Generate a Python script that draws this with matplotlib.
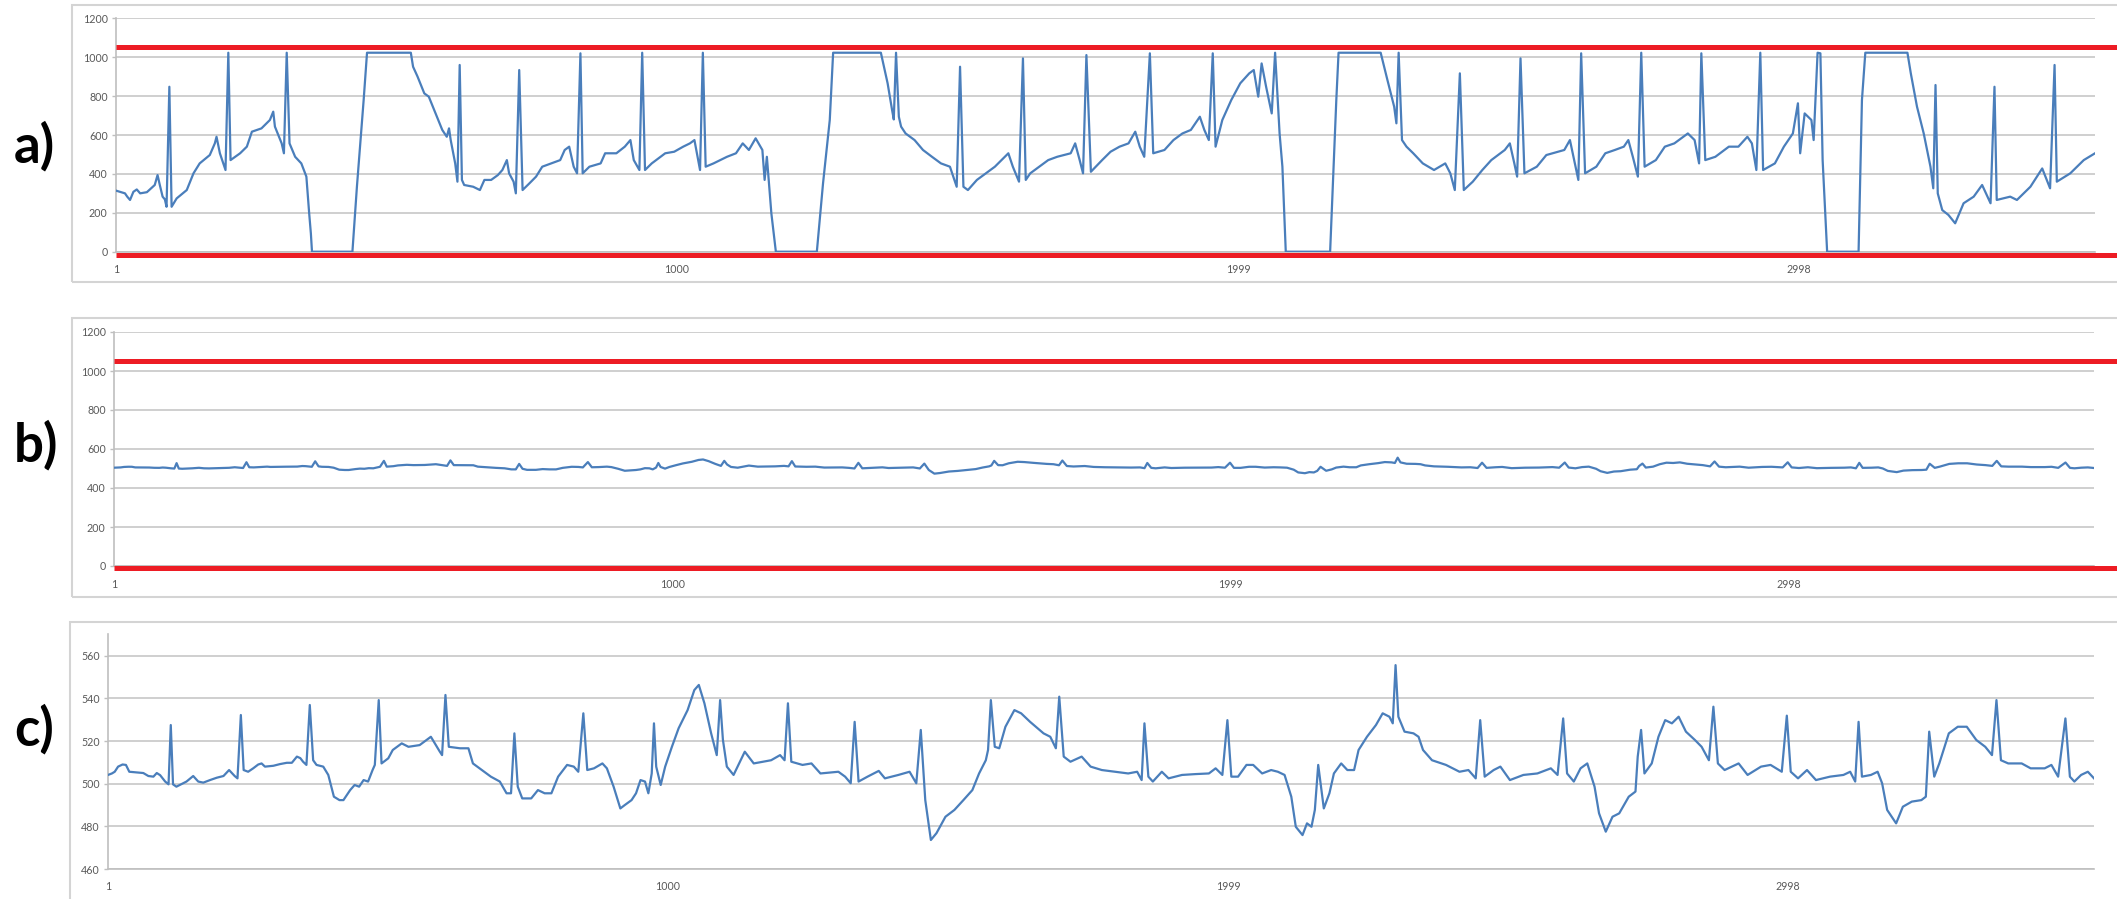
import matplotlib
matplotlib.use("Agg")
import matplotlib.pyplot as plt
from matplotlib.patches import Rectangle

# raw sensor trace (clips at the ADC limits)
raw_idx = [1, 17, 21, 26, 32, 38, 44, 56, 70, 75, 79, 84, 88, 91, 96, 100, 109, 127, 139, 150,
           168, 177, 180, 186, 196, 201, 205, 222, 234, 243, 260, 275, 281, 284, 296, 300, 305,
           310, 320, 331, 340, 345, 348, 350,
           422, 430, 442, 448, 526, 530, 538, 550, 558, 570, 582, 590, 594, 597, 605, 609, 613,
           617, 621, 637, 649, 657, 669, 681, 689, 697, 701, 709, 713, 719, 725, 737, 749, 760,
           776, 792, 800, 808, 816, 822, 828, 832, 844, 864, 872, 892, 907, 917, 923, 933, 938,
           943, 955, 979, 995, 1011, 1023, 1031, 1041, 1046, 1051, 1065, 1089, 1105, 1117, 1128,
           1140, 1152, 1156, 1160, 1168, 1176, 1249, 1260, 1272, 1278, 1363, 1375, 1383, 1386,
           1390, 1395, 1399, 1407, 1423, 1438, 1454, 1470, 1486, 1498, 1504, 1510, 1518, 1534,
           1550, 1566, 1590, 1598, 1609, 1616, 1621, 1629, 1645, 1661, 1677, 1701, 1709, 1717,
           1723, 1729, 1737, 1757, 1772, 1788, 1804, 1816, 1824, 1832, 1842, 1848, 1868, 1884,
           1900, 1915, 1931, 1939, 1947, 1954, 1959, 1971, 1987, 2003, 2019, 2027, 2035, 2041,
           2049, 2059, 2065, 2073, 2078, 2084, 2163, 2174, 2178, 2253, 2265, 2277, 2281, 2285,
           2291, 2299, 2311, 2328, 2348, 2368, 2377, 2385, 2394, 2401, 2417, 2434, 2450, 2474,
           2483, 2491, 2496, 2502, 2509, 2531, 2548, 2580, 2590, 2600, 2605, 2610, 2617, 2637,
           2653, 2670, 2686, 2694, 2702, 2711, 2717, 2723, 2743, 2759, 2776, 2800, 2812, 2820,
           2824, 2831, 2849, 2873, 2890, 2906, 2914, 2922, 2929, 2934, 2955, 2971, 2987, 2996,
           3000, 3008, 3020, 3024, 3031, 3036, 3040, 3048, 3104, 3110, 3116, 3191, 3197, 3208,
           3220, 3232, 3237, 3241, 3245, 3253, 3264, 3276, 3291, 3309, 3324, 3339, 3346, 3350,
           3374, 3386, 3410, 3431, 3445, 3453, 3457, 3481, 3505, 3525]
raw_val = [314, 300, 283, 266, 308, 320, 300, 306, 343, 394, 343, 283, 269, 231, 848, 231, 274,
           317, 403, 454, 497, 557, 591, 506, 420, 1023, 471, 506, 540, 617, 634, 677, 720, 643,
           557, 506, 1023, 557, 488, 454, 386, 197, 94, 0,
           0, 334, 780, 1023, 1023, 951, 900, 814, 797, 711, 626, 591, 634, 574, 454, 360, 960,
           369, 343, 334, 317, 369, 369, 394, 420, 471, 403, 360, 300, 934, 317, 351, 386, 437,
           454, 471, 523, 540, 437, 403, 1020, 403, 437, 454, 506, 506, 540, 574, 471, 420, 1023,
           420, 454, 506, 514, 540, 557, 574, 420, 1023, 437, 454, 488, 506, 557, 523,
           583, 523, 369, 488, 197, 0, 0, 351, 677, 1023, 1023, 866, 728, 680,
           1023, 694, 643, 608, 574, 523, 488, 454, 437, 334, 951, 334, 317, 369,
           403, 437, 506, 437, 360, 994, 369, 403, 437, 471, 488, 506, 557, 471,
           403, 1011, 411, 471, 514, 540, 557, 617, 540, 488, 1020, 506, 523, 574,
           608, 626, 694, 626, 574, 1020, 540, 677, 780, 866, 917, 934, 797, 968,
           848, 711, 1023, 608, 437, 0, 0, 780, 1023, 1023, 883, 746, 660, 1023,
           574, 540, 506, 454, 420, 454, 403, 317, 917, 317, 360, 420, 471, 523,
           557, 454, 386, 994, 403, 437, 497, 523, 574, 437, 369, 1020, 403, 437,
           506, 523, 540, 574, 488, 386, 1023, 437, 471, 540, 557, 608, 574, 454,
           1020, 471, 488, 540, 540, 591, 557, 420, 1023, 420, 454, 540, 608, 763,
           506, 711, 677, 574, 1023, 1020, 471, 0, 0, 780, 1023, 1023, 917, 746,
           608, 437, 326, 857, 300, 214, 189, 146, 249, 283, 343, 249, 848, 266,
           283, 266, 334, 428, 326, 960, 360, 403, 471, 506]

# filtered trace (shown at full and zoomed scale)
filt_idx = [1, 8, 13, 19, 27, 33, 39, 52, 64, 73, 82, 88, 94, 103, 109, 113, 117, 123, 129, 141,
            153, 162, 171, 183, 195, 207, 217, 227, 232, 238, 243, 251, 260, 269, 275, 281, 296,
            308, 320, 329, 338, 344, 349, 355, 361, 367, 373, 385, 394, 404, 414, 421, 433, 441,
            449, 457, 465, 473, 477, 484, 489, 501, 509, 525, 537, 557, 577, 593, 597, 603, 609,
            629, 644, 652, 668, 684, 700, 712, 720, 726, 732, 740, 756, 768, 780, 792, 804, 820,
            832, 840, 849, 856, 868, 883, 891, 903, 915, 923, 935, 943, 951, 959, 965, 971, 975,
            979, 987, 995, 1007, 1019, 1035, 1047, 1055, 1065, 1077, 1087, 1093, 1098, 1105,
            1117, 1137, 1153, 1184, 1200, 1208, 1214, 1220, 1240, 1256, 1272, 1304, 1316, 1326,
            1333, 1340, 1356, 1376, 1387, 1411, 1431, 1443, 1451, 1459, 1469, 1479, 1495, 1511,
            1527, 1543, 1555, 1567, 1571, 1576, 1583, 1591, 1602, 1618, 1630, 1646, 1670, 1682,
            1692, 1698, 1706, 1718, 1738, 1754, 1774, 1798, 1821, 1837, 1845, 1850, 1857, 1865,
            1881, 1893, 1917, 1941, 1965, 1977, 1989, 1998, 2005, 2017, 2032, 2044, 2060, 2076,
            2088, 2100, 2112, 2120, 2132, 2140, 2148, 2154, 2160, 2170, 2180, 2188, 2201, 2212,
            2224, 2232, 2247, 2263, 2275, 2287, 2293, 2298, 2303, 2314, 2330, 2339, 2347, 2363,
            2388, 2412, 2428, 2441, 2449, 2457, 2473, 2485, 2502, 2526, 2551, 2575, 2587, 2597,
            2604, 2616, 2628, 2640, 2653, 2661, 2673, 2685, 2697, 2714, 2726, 2730, 2736, 2742,
            2755, 2767, 2779, 2791, 2803, 2816, 2832, 2844, 2857, 2865, 2873, 2885, 2910, 2926,
            2950, 2967, 2987, 2996, 3003, 3016, 3032, 3048, 3073, 3097, 3109, 3118, 3124, 3130,
            3146, 3158, 3166, 3175, 3191, 3203, 3219, 3236, 3244, 3250, 3259, 3268, 3285, 3301,
            3317, 3334, 3350, 3362, 3370, 3378, 3391, 3415, 3431, 3456, 3468, 3480, 3493, 3501,
            3509, 3521, 3533, 3544]
filt_val = [504.1, 504.8, 505.6, 508.0, 509.0, 508.8, 505.6, 505.3, 505.0, 503.6, 503.3, 505.0,
            504.0, 501.0, 499.7, 527.5, 499.7, 498.6, 499.4, 501.0, 503.6, 501.0, 500.5, 501.7,
            502.8, 503.6, 506.4, 503.6, 502.5, 532.2, 506.4, 505.6, 507.2, 509.0, 509.5, 508.0,
            508.4, 509.2, 509.8, 509.8, 512.7, 512.0, 510.3, 508.8, 536.9, 511.0, 508.8, 508.0,
            504.1, 493.9, 492.3, 492.3, 497.0, 499.4, 498.6, 501.7, 501.0, 506.4, 508.8, 539.2,
            509.5, 511.9, 515.8, 518.9, 517.3, 518.1, 522.0, 515.0, 513.4, 541.6, 517.3, 516.6,
            516.6, 509.5, 506.4, 503.3, 501.0, 495.5, 495.5, 523.6, 498.6, 493.1, 493.1, 497.0,
            495.5, 495.5, 503.3, 508.8, 508.0, 505.6, 533.0, 506.4, 507.2, 509.5, 507.2, 498.6,
            488.4, 490.0, 492.3, 495.5, 501.7, 501.0, 495.5, 504.8, 528.3, 508.0, 499.4, 508.0,
            517.3, 526.0, 534.5, 543.9, 546.3, 537.7, 523.6, 513.4, 539.2, 520.6, 508.0, 504.1,
            515.0, 509.5, 511.0, 513.4, 511.0, 537.7, 510.3, 508.8, 509.5, 504.8, 505.6, 503.3,
            500.2, 529.0, 501.0, 503.3, 506.0, 502.5, 504.1, 505.6, 500.2, 525.2, 492.3, 473.6,
            476.8, 484.5, 487.7, 492.3, 497.0, 504.8, 511.0, 515.8, 539.2, 517.3, 516.6, 526.7,
            534.5, 533.0, 529.0, 523.6, 522.0, 516.6, 540.8, 512.7, 510.3, 512.7, 508.0, 506.4,
            505.6, 504.8, 505.6, 501.7, 528.3, 503.3, 501.0, 505.6, 502.5, 504.1, 504.5, 504.8,
            507.2, 504.1, 529.8, 503.3, 503.3, 508.8, 508.8, 504.8, 506.4, 505.6, 504.1, 493.9,
            479.8, 475.9, 481.4, 479.8, 487.7, 508.8, 488.4, 495.5, 504.8, 509.5, 506.4, 506.4,
            515.8, 522.0, 527.5, 533.0, 531.4, 528.3, 555.6, 531.4, 524.4, 523.6, 522.0, 515.8,
            511.0, 508.8, 505.6, 506.4, 502.5, 529.8, 503.3, 506.4, 508.0, 501.7, 504.1, 504.8,
            507.2, 504.1, 530.6, 504.8, 501.0, 507.2, 509.5, 498.6, 486.1, 477.5, 484.5, 486.1,
            493.9, 496.3, 512.7, 525.2, 504.8, 509.5, 522.0, 529.8, 528.3, 531.4, 524.4, 520.5,
            517.3, 511.0, 536.1, 509.5, 506.4, 509.5, 504.1, 508.0, 508.8, 505.6, 531.9, 505.6,
            502.5, 506.4, 501.7, 503.3, 504.1, 505.6, 501.0, 529.0, 503.3, 504.1, 505.6, 500.2,
            487.7, 481.4, 489.2, 491.6, 492.3, 493.9, 524.4, 503.3, 509.5, 523.6, 526.7, 526.7,
            520.5, 517.3, 513.4, 539.2, 511.0, 509.5, 509.5, 507.2, 507.2, 508.8, 503.3, 530.6,
            503.3, 501.0, 504.1, 505.6, 502.5]

x_ticks = [1, 1000, 1999, 2998]
upper_limit = 1050
lower_limits = [-15, -10]
panel_names = ["a)", "b)", "c)"]

W, H = 2117, 899
BLUE = "#4a7ebb"
RED = "#ed1c24"
GRID = "#cfcfcf"
TXT = "#595959"


def box(left, right, top, bottom):
    return [left / W, 1 - bottom / H, (right - left) / W, (bottom - top) / H]


def style_axis(ax, xmax, ylim, yticks):
    ax.set_xlim(1, xmax)
    ax.set_ylim(*ylim)
    ax.set_xticks(x_ticks)
    ax.set_xticklabels([str(t) for t in x_ticks])
    ax.set_yticks(yticks)
    ax.yaxis.grid(True, color=GRID, lw=1.4)
    ax.set_axisbelow(True)
    for s in ("top", "right"):
        ax.spines[s].set_visible(False)
    for s in ("left", "bottom"):
        ax.spines[s].set_color("#bfbfbf")
        ax.spines[s].set_linewidth(1.2)
    ax.tick_params(axis="y", length=3, width=1, color="#bfbfbf", pad=3,
                   labelsize=7.7, labelcolor=TXT)
    ax.tick_params(axis="x", length=0, pad=9, labelsize=7.7, labelcolor=TXT)
    for lab in ax.get_xticklabels() + ax.get_yticklabels():
        lab.set_family("Lato")


def limit_line(ax, value):
    ax.plot([0, 1.02], [value, value], transform=ax.get_yaxis_transform(), color=RED,
            lw=3.6, solid_capstyle="butt", clip_on=False, zorder=5)


fig = plt.figure(figsize=(W / 100, H / 100), dpi=100)

# chart area borders
for left, top, bottom in [(72, 5, 282), (72, 318, 597), (70, 622, 920)]:
    fig.add_artist(Rectangle((left / W, 1 - bottom / H), (2140 - left) / W, (bottom - top) / H,
                             transform=fig.transFigure, fill=False, ec="#d4d4d4", lw=1.5))

ax_a = fig.add_axes(box(116, 2095, 18.3, 251.7))
ax_a.plot(raw_idx, raw_val, color=BLUE, lw=1.6, zorder=3)
style_axis(ax_a, raw_idx[-1], (0, 1200), range(0, 1201, 200))
limit_line(ax_a, upper_limit)
limit_line(ax_a, lower_limits[0])

ax_b = fig.add_axes(box(114, 2094, 332, 566))
ax_b.plot(filt_idx, filt_val, color=BLUE, lw=1.6, zorder=3)
style_axis(ax_b, filt_idx[-1], (0, 1200), range(0, 1201, 200))
limit_line(ax_b, upper_limit)
limit_line(ax_b, lower_limits[1])

ax_c = fig.add_axes(box(108, 2094, 634.4, 869))
ax_c.plot(filt_idx, filt_val, color=BLUE, lw=1.6, zorder=3)
style_axis(ax_c, filt_idx[-1], (460, 570), range(460, 561, 20))

for name, yc in zip(panel_names, [146, 445, 729]):
    fig.text(14 / W, 1 - yc / H, name, fontsize=38, fontweight="bold", family="Lato",
             va="center", ha="left", color="black")

fig.savefig("out.png", dpi=100)
